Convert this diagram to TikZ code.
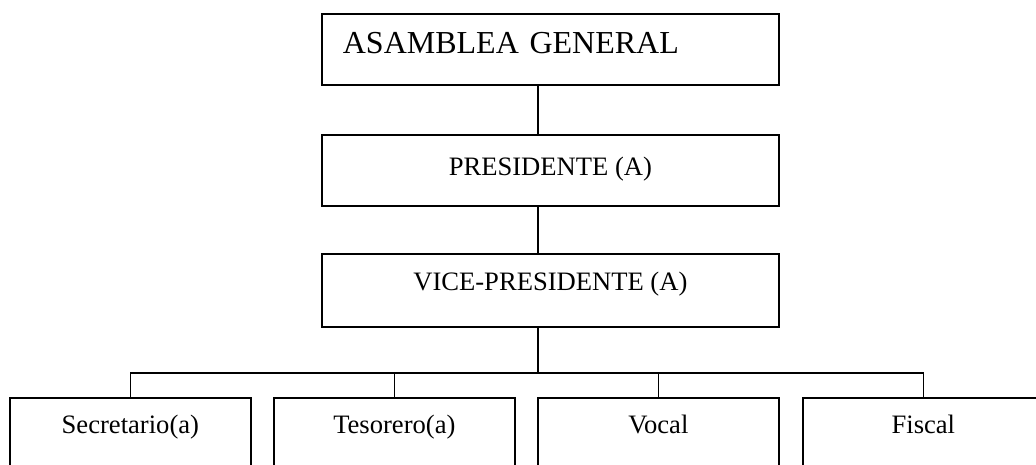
\documentclass[tikz,border=0pt]{standalone}
\usepackage{fontspec}
\setmainfont{Liberation Serif}
\tikzset{
  cargo/.style={draw, line width=1.7pt, inner sep=0pt, minimum width=457pt,
    text height=40pt, text depth=31pt, anchor=north west,
    font=\fontsize{26.6}{30}\selectfont},
  cargobajo/.style={cargo, minimum width=241pt, text height=36pt, text depth=67pt},
  linea/.style={line width=1.7pt}
}
\begin{document}
\begin{tikzpicture}[x=1pt,y=-1pt]
            \clip (0,0) rectangle (1036,465);

            % Asamblea general (text left aligned)
            \node [cargo, text width=415pt, inner xsep=21pt, align=left,
              font=\fontsize{32}{36}\selectfont] (asamblea) at (321,13) {ASAMBLEA GENERAL};%

            % Presidente and vice-presidente
            \node [cargo, text height=41pt, text depth=30pt] (presidente) at (321,134) {PRESIDENTE (A)};%
            \node [cargo, text height=37pt, text depth=36pt] (vice) at (321,253) {VICE-PRESIDENTE (A)};%

            % Lower row, cut off by the clip
            \node [cargobajo] (secretario) at (9,397) {Secretario(a)};%
            \node [cargobajo] (tesorero) at (273,397) {Tesorero(a)};%
            \node [cargobajo] (vocal) at (537,397) {Vocal};%
            \node [cargobajo] (fiscal) at (802,397) {Fiscal};%

            % Trunk and bus
            \coordinate (bus) at (538,373);%
            \draw [linea] (asamblea.south -| bus) -- (presidente.north -| bus);%
            \draw [linea] (presidente.south -| bus) -- (vice.north -| bus);%
            \draw [linea] (vice.south -| bus) -- (bus);%
            \draw [linea] (secretario.north) |- (bus) -| (fiscal.north);%
            \draw [linea] (tesorero.north) -- (tesorero.north |- bus);%
            \draw [linea] (vocal.north) -- (vocal.north |- bus);%
\end{tikzpicture}
\end{document}
